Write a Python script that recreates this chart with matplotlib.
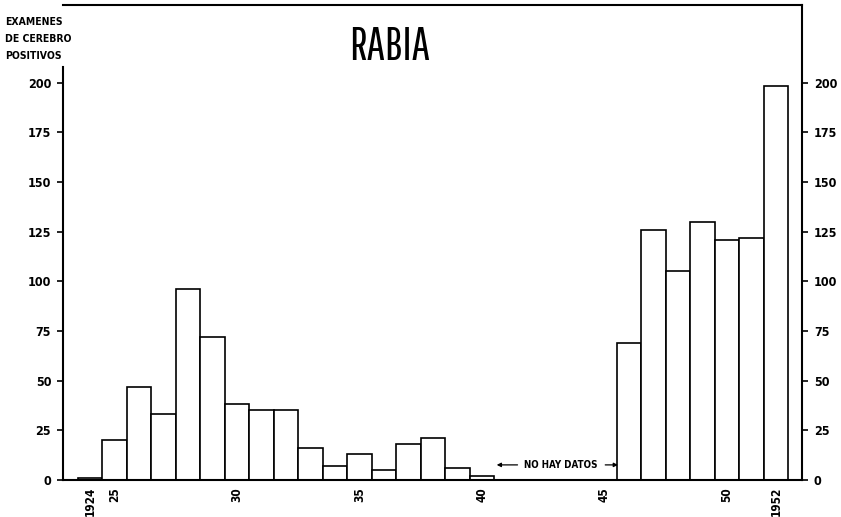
"""
RABIA: positive brain examinations per year, 1924-1952 (no data 1941-45).
Rebuilt as a plain white-bar histogram with ticks on both sides.
"""

import matplotlib

matplotlib.use("Agg")
import matplotlib.pyplot as plt

years = [1924, 1925, 1926, 1927, 1928, 1929, 1930, 1931, 1932, 1933,
         1934, 1935, 1936, 1937, 1938, 1939, 1940,
         1946, 1947, 1948, 1949, 1950, 1951, 1952]
positives = [1, 20, 47, 33, 96, 72, 38, 35, 35, 16,
             7, 13, 5, 18, 21, 6, 2,
             69, 126, 105, 130, 121, 122, 198]

y_ticks = [0, 25, 50, 75, 100, 125, 150, 175, 200]
x_tick_years = [1924, 1925, 1930, 1935, 1940, 1945, 1950, 1952]
x_tick_labels = ["1924", "25", "30", "35", "40", "45", "50", "1952"]

title = "RABIA"
axis_label = "EXAMENES\nDE CEREBRO\nPOSITIVOS"
gap_label = "NO HAY DATOS"

# old typewriter-ish lettering: narrow bold faces
plt.rcParams["font.family"] = ["DejaVu Sans"]
plt.rcParams["font.stretch"] = "condensed"
lab_kw = dict(fontweight="bold", fontstretch="condensed")

fig = plt.figure(figsize=(8.41, 5.17), dpi=100)
ax = fig.add_axes([63 / 841, 37 / 517, (802 - 63) / 841, 475 / 517])

ax.bar(years, positives, width=1.0, color="white", edgecolor="black", linewidth=1.2)

ax.set_xlim(1922.9, 1953.06)
ax.set_ylim(0, 239)

for side in ["left", "right", "top", "bottom"]:
    ax.spines[side].set_linewidth(1.5)
ax.spines["left"].set_bounds(0, 208)

ax.set_yticks(y_ticks)
ax.tick_params(axis="y", direction="out", length=4.5, width=1.2, pad=4,
               left=True, right=True, labelleft=True, labelright=True,
               labelsize=9)
for lab in ax.get_yticklabels(which="both"):
    lab.set_fontweight("bold")
    lab.set_fontstretch("condensed")

ax.set_xticks(x_tick_years, x_tick_labels, rotation=90)
ax.tick_params(axis="x", length=0, pad=5, labelsize=8.5)
for lab in ax.get_xticklabels():
    lab.set_fontweight("bold")
    lab.set_fontstretch("condensed")

fig.text(5 / 841, 1 - 17 / 517, axis_label, ha="left", va="top",
         fontsize=7.5, linespacing=1.85, **lab_kw)
fig.text(390 / 841, 1 - 46 / 517, title, ha="center", va="center", fontsize=33,
         family=["Pathway Gothic One", "DejaVu Sans"], fontstretch="condensed")

# "no data" note with arrows on each side
y_note = 7.6
ax.annotate("", xy=(1940.6, y_note), xytext=(1941.45, y_note),
            arrowprops=dict(arrowstyle="-|>", color="black", lw=0.9,
                            mutation_scale=6, shrinkA=0, shrinkB=0))
ax.annotate("", xy=(1945.55, y_note), xytext=(1945.03, y_note),
            arrowprops=dict(arrowstyle="-|>", color="black", lw=0.9,
                            mutation_scale=6, shrinkA=0, shrinkB=0))
ax.text(1943.2, y_note, gap_label, ha="center", va="center", fontsize=7, **lab_kw)

fig.savefig("out.png", dpi=100)
